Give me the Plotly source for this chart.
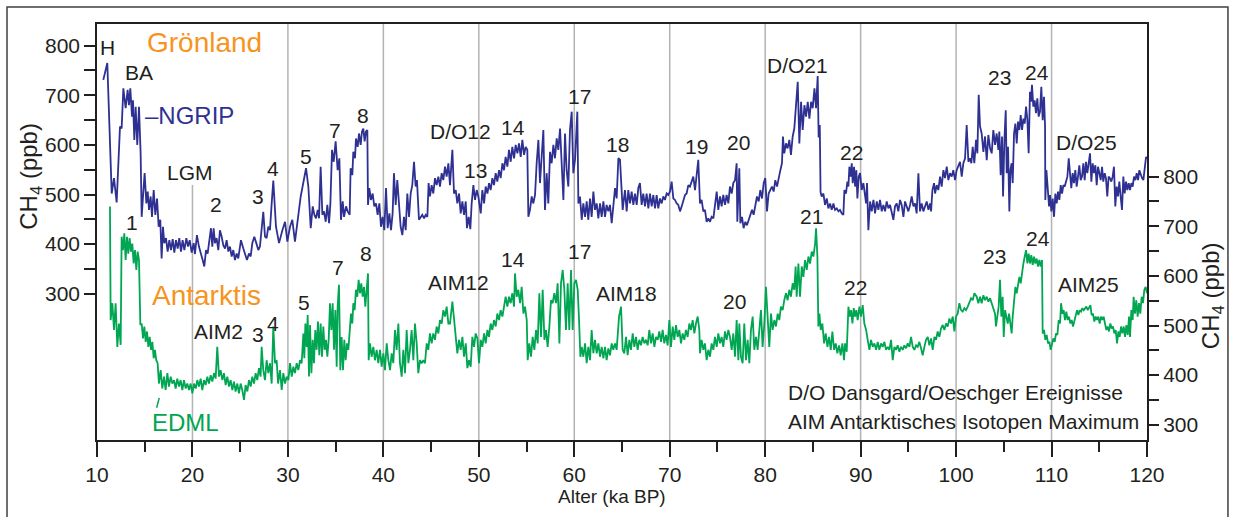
import plotly.graph_objects as go

# ---------------------------------------------------------------------------
# Methane records (ka BP, ppb)
# ---------------------------------------------------------------------------
ngrip_age = [
    10.66, 11.08, 11.54, 11.78, 12.06, 12.41, 12.58, 12.76, 13.00, 13.21, 13.35, 13.49, 13.67, 13.77,
    13.91, 14.05, 14.22, 14.40, 14.57, 14.68, 14.89, 14.99, 15.17, 15.31, 15.45, 15.62, 15.76, 15.94,
    16.11, 16.29, 16.46, 16.63, 16.77, 16.91, 17.05, 17.23, 17.40, 17.58, 17.75, 17.93, 18.10, 18.27,
    18.45, 18.62, 18.80, 18.97, 19.15, 19.36, 19.53, 19.71, 19.92, 20.13, 20.26, 20.47, 20.68, 20.89,
    21.07, 21.24, 21.42, 21.59, 21.77, 21.94, 22.08, 22.22, 22.36, 22.53, 22.71, 22.88, 23.06, 23.23,
    23.41, 23.58, 23.76, 23.93, 24.11, 24.28, 24.45, 24.63, 24.80, 25.08, 25.33, 25.50, 25.71, 25.92,
    26.10, 26.27, 26.48, 26.69, 26.90, 27.07, 27.25, 27.42, 27.60, 27.77, 27.95, 28.12, 28.30, 28.47,
    28.75, 29.07, 29.42, 29.70, 29.94, 30.22, 30.46, 30.74, 31.34, 31.90, 32.14, 32.39, 32.60, 32.77,
    32.94, 33.12, 33.26, 33.43, 33.61, 33.78, 33.96, 34.13, 34.31, 34.45, 34.62, 34.80, 35.00, 35.21,
    35.39, 35.56, 35.74, 35.88, 36.09, 36.26, 36.47, 36.57, 36.75, 36.85, 37.03, 37.13, 37.31, 37.45,
    37.62, 37.76, 37.90, 38.04, 38.18, 38.32, 38.39, 38.53, 38.70, 38.88, 39.05, 39.23, 39.40, 39.58,
    39.75, 39.93, 40.10, 40.28, 40.45, 40.63, 40.80, 40.97, 41.11, 41.29, 41.46, 41.64, 41.81, 41.99,
    42.16, 42.34, 42.51, 42.69, 42.86, 43.03, 43.21, 43.38, 43.52, 43.73, 43.91, 44.08, 44.26, 44.43,
    44.61, 44.74, 44.88, 45.06, 45.23, 45.41, 45.58, 45.76, 45.93, 46.11, 46.28, 46.46, 46.63, 46.81,
    46.98, 47.23, 47.40, 47.58, 47.75, 47.93, 48.10, 48.28, 48.45, 48.63, 48.76, 48.94, 49.11, 49.25,
    49.43, 49.60, 49.78, 49.95, 50.20, 50.37, 50.55, 50.72, 50.90, 51.07, 51.24, 51.42, 51.59, 51.77,
    51.94, 52.12, 52.29, 52.47, 52.64, 52.81, 52.99, 53.16, 53.34, 53.51, 53.69, 53.86, 54.04, 54.21,
    54.39, 54.56, 54.74, 54.91, 55.08, 55.19, 55.36, 55.54, 55.71, 55.89, 56.06, 56.24, 56.41, 56.59,
    56.76, 56.93, 57.11, 57.28, 57.46, 57.63, 57.81, 57.98, 58.16, 58.33, 58.51, 58.68, 58.86, 59.03,
    59.20, 59.38, 59.55, 59.73, 59.90, 60.08, 60.32, 60.43, 60.60, 60.78, 60.95, 61.13, 61.30, 61.47,
    61.65, 61.82, 62.00, 62.17, 62.35, 62.52, 62.70, 62.87, 63.05, 63.22, 63.39, 63.57, 63.74, 63.92,
    64.09, 64.27, 64.44, 64.62, 64.79, 65.07, 65.31, 65.49, 65.66, 65.84, 66.01, 66.19, 66.36, 66.54,
    66.71, 66.88, 67.06, 67.23, 67.41, 67.58, 67.76, 67.93, 68.11, 68.28, 68.46, 68.63, 68.80, 68.98,
    69.15, 69.33, 69.50, 69.68, 69.85, 70.03, 70.20, 70.38, 70.55, 70.73, 70.90, 71.08, 71.25, 71.42,
    71.60, 71.77, 71.95, 72.12, 72.30, 72.47, 72.65, 72.82, 72.99, 73.17, 73.34, 73.52, 73.69, 73.87,
    74.04, 74.22, 74.39, 74.57, 74.74, 74.92, 75.09, 75.27, 75.44, 75.61, 75.79, 75.96, 76.14, 76.31,
    76.49, 76.66, 76.84, 77.01, 77.08, 77.19, 77.29, 77.40, 77.57, 77.74, 77.92, 78.09, 78.27, 78.44,
    78.62, 78.79, 78.97, 79.14, 79.32, 79.49, 79.67, 79.84, 80.01, 80.19, 80.36, 80.54, 80.71, 80.89,
    81.06, 81.24, 81.41, 81.59, 81.76, 81.86, 82.00, 82.18, 82.35, 82.53, 82.70, 82.88, 83.05, 83.23,
    83.41, 83.58, 83.76, 83.93, 84.11, 84.28, 84.46, 84.63, 84.81, 84.98, 85.16, 85.33, 85.50, 85.60,
    85.72, 85.80, 85.92, 86.10, 86.27, 86.45, 86.62, 86.80, 86.97, 87.15, 87.32, 87.50, 87.67, 87.84,
    88.02, 88.19, 88.30, 88.47, 88.61, 88.72, 88.82, 88.96, 89.07, 89.17, 89.31, 89.42, 89.55, 89.66,
    89.80, 89.94, 90.11, 90.29, 90.46, 90.57, 90.67, 90.81, 90.99, 91.16, 91.34, 91.51, 91.69, 91.86,
    92.03, 92.21, 92.38, 92.56, 92.73, 92.91, 93.08, 93.26, 93.43, 93.60, 93.78, 93.95, 94.13, 94.30,
    94.48, 94.65, 94.83, 95.00, 95.18, 95.35, 95.53, 95.70, 95.87, 96.05, 96.22, 96.40, 96.57, 96.75,
    96.92, 97.10, 97.27, 97.38, 97.52, 97.69, 97.80, 97.97, 98.14, 98.32, 98.49, 98.67, 98.84, 99.02,
    99.19, 99.37, 99.54, 99.71, 99.89, 100.06, 100.24, 100.41, 100.59, 100.76, 100.94, 101.11, 101.29,
    101.46, 101.60, 101.74, 101.91, 102.09, 102.23, 102.37, 102.51, 102.68, 102.86, 103.03, 103.21,
    103.38, 103.56, 103.73, 103.90, 104.08, 104.25, 104.43, 104.53, 104.67, 104.81, 104.92, 105.06,
    105.20, 105.30, 105.44, 105.58, 105.69, 105.82, 105.93, 106.07, 106.21, 106.35, 106.49, 106.63,
    106.77, 106.91, 107.05, 107.19, 107.33, 107.47, 107.60, 107.74, 107.85, 107.95, 108.09, 108.23,
    108.37, 108.51, 108.65, 108.79, 108.93, 109.07, 109.21, 109.32, 109.35, 109.46, 109.60, 109.74,
    109.84, 109.98, 110.12, 110.26, 110.40, 110.54, 110.68, 110.82, 110.96, 111.10, 111.24, 111.38,
    111.52, 111.66, 111.80, 111.93, 112.07, 112.21, 112.35, 112.49, 112.63, 112.77, 112.91, 113.05,
    113.19, 113.33, 113.47, 113.61, 113.75, 113.89, 114.03, 114.17, 114.31, 114.45, 114.59, 114.73,
    114.87, 115.01, 115.15, 115.29, 115.42, 115.57, 115.70, 115.84, 115.98, 116.12, 116.26, 116.40,
    116.54, 116.68, 116.82, 116.96, 117.10, 117.24, 117.38, 117.52, 117.66, 117.80, 117.94, 118.08,
    118.22, 118.36, 118.50, 118.64, 118.78, 118.92, 119.06, 119.20, 119.34, 119.48, 119.62, 119.76,
    119.90, 120.00,
]
ngrip_ch4 = [
    731, 765, 502, 533, 484, 637, 633, 714, 674, 711, 680, 714, 657, 690,
    610, 677, 600, 677, 583, 455, 516, 543, 482, 506, 469, 496, 455, 509,
    459, 492, 435, 449, 371, 435, 402, 412, 385, 408, 388, 410, 383, 408,
    391, 412, 385, 408, 388, 412, 395, 408, 383, 402, 380, 418, 395, 383,
    368, 355, 388, 381, 412, 432, 395, 432, 402, 412, 388, 428, 415, 398,
    391, 408, 385, 395, 375, 388, 368, 381, 371, 408, 391, 381, 368, 381,
    375, 402, 415, 402, 388, 395, 428, 465, 415, 412, 435, 428, 482, 528,
    435, 402, 428, 445, 405, 435, 449, 405, 496, 553, 516, 432, 476, 459,
    452, 469, 452, 556, 459, 466, 445, 479, 442, 482, 590, 566, 607, 549,
    573, 449, 486, 455, 476, 466, 459, 553, 539, 586, 573, 613, 596, 623,
    600, 627, 633, 607, 627, 630, 479, 513, 489, 502, 476, 482, 459, 482,
    435, 455, 428, 513, 432, 462, 428, 462, 543, 479, 529, 482, 435, 418,
    455, 428, 502, 455, 502, 519, 566, 516, 529, 449, 455, 459, 452, 459,
    455, 523, 496, 519, 502, 533, 519, 536, 516, 543, 529, 556, 536, 563,
    519, 590, 502, 509, 482, 502, 462, 486, 459, 486, 432, 455, 430, 482,
    519, 489, 509, 496, 462, 509, 482, 516, 502, 523, 509, 533, 519, 543,
    526, 549, 533, 563, 549, 576, 556, 590, 566, 596, 573, 600, 583, 603,
    576, 610, 580, 596, 590, 455, 469, 496, 482, 499, 563, 610, 523, 576,
    630, 469, 543, 482, 586, 563, 600, 573, 613, 590, 633, 563, 489, 623,
    549, 516, 630, 667, 543, 570, 667, 482, 496, 449, 482, 455, 486, 449,
    492, 455, 506, 469, 482, 452, 482, 455, 486, 455, 479, 466, 479, 442,
    486, 513, 492, 573, 570, 469, 509, 466, 509, 482, 506, 479, 502, 479,
    513, 523, 479, 502, 476, 502, 472, 502, 476, 499, 472, 499, 472, 492,
    482, 496, 489, 502, 499, 506, 526, 492, 489, 482, 479, 466, 476, 489,
    499, 502, 519, 516, 526, 536, 509, 539, 570, 482, 489, 466, 469, 445,
    452, 445, 455, 452, 482, 506, 469, 496, 476, 499, 479, 499, 482, 516,
    502, 523, 529, 563, 445, 516, 553, 442, 455, 432, 445, 438, 449, 459,
    469, 459, 479, 496, 486, 509, 492, 523, 533, 466, 502, 509, 516, 506,
    529, 516, 536, 549, 563, 617, 583, 603, 593, 610, 580, 617, 633, 690,
    727, 603, 687, 630, 680, 657, 687, 653, 687, 674, 714, 674, 739, 615,
    640, 505, 496, 502, 479, 492, 472, 482, 469, 482, 469, 472, 466, 469,
    462, 459, 509, 502, 526, 516, 556, 536, 563, 523, 556, 516, 549, 492,
    536, 543, 509, 523, 499, 482, 523, 428, 486, 466, 489, 462, 486, 469,
    489, 466, 479, 466, 486, 472, 479, 462, 449, 476, 482, 466, 489, 479,
    455, 486, 476, 466, 479, 496, 476, 482, 462, 543, 466, 482, 466, 479,
    486, 469, 482, 466, 509, 523, 502, 519, 509, 536, 516, 549, 533, 556,
    529, 543, 536, 549, 529, 549, 560, 566, 536, 563, 573, 640, 566,
    573, 563, 596, 563, 610, 583, 701, 637, 623, 586, 617, 569,
    620, 593, 583, 630, 600, 623, 590, 627, 539, 617, 496, 610,
    670, 543, 596, 466, 549, 563, 523, 623, 643, 603, 647, 630,
    660, 630, 653, 643, 677, 650, 583, 707, 687, 721, 677, 690,
    664, 694, 657, 667, 717, 650, 697, 637, 489, 549, 502, 476,
    499, 466, 492, 455, 502, 482, 506, 489, 519, 502, 519, 516,
    526, 536, 573, 533, 513, 543, 523, 549, 516, 536, 559, 529,
    536, 563, 529, 566, 543, 563, 583, 526, 563, 543, 559, 519,
    556, 543, 529, 556, 526, 543, 533, 496, 536, 533, 526, 536,
    556, 476, 516, 496, 526, 496, 469, 536, 502, 526, 509, 523,
    509, 523, 516, 536, 529, 543, 529, 549, 539, 533, 529, 556,
    576, 572,
]

edml_age = [
    11.36, 11.43, 11.61, 11.78, 11.95, 12.13, 12.30, 12.48, 12.58, 12.72, 12.86, 13.00, 13.14, 13.28,
    13.42, 13.56, 13.70, 13.84, 13.98, 14.12, 14.26, 14.40, 14.54, 14.68, 14.82, 14.96, 15.10, 15.24,
    15.38, 15.52, 15.66, 15.80, 15.94, 16.07, 16.21, 16.35, 16.49, 16.67, 16.84, 17.02, 17.19, 17.37,
    17.54, 17.72, 17.89, 18.07, 18.24, 18.41, 18.59, 18.76, 18.94, 19.11, 19.29, 19.46, 19.64, 19.81,
    19.99, 20.16, 20.34, 20.51, 20.68, 20.86, 21.03, 21.21, 21.38, 21.56, 21.73, 21.91, 22.08, 22.26,
    22.43, 22.60, 22.78, 22.95, 23.13, 23.30, 23.48, 23.65, 23.83, 24.00, 24.18, 24.35, 24.52, 24.70,
    24.87, 25.05, 25.22, 25.40, 25.57, 25.75, 25.92, 26.10, 26.27, 26.45, 26.62, 26.79, 26.97, 27.14,
    27.25, 27.42, 27.60, 27.77, 27.95, 28.12, 28.30, 28.47, 28.65, 28.82, 28.97, 29.17, 29.35, 29.52,
    29.70, 29.87, 30.05, 30.22, 30.40, 30.57, 30.74, 30.92, 31.09, 31.27, 31.44, 31.62, 31.72, 31.83,
    31.97, 32.07, 32.21, 32.32, 32.46, 32.60, 32.73, 32.87, 33.01, 33.15, 33.29, 33.43, 33.57, 33.71,
    33.85, 33.99, 34.13, 34.27, 34.41, 34.55, 34.69, 34.83, 34.97, 35.11, 35.21, 35.35, 35.49, 35.63,
    35.77, 35.91, 36.05, 36.19, 36.33, 36.47, 36.61, 36.75, 36.85, 36.99, 37.13, 37.27, 37.41, 37.55,
    37.69, 37.83, 37.97, 38.11, 38.25, 38.39, 38.46, 38.60, 38.77, 38.95, 39.12, 39.30, 39.47, 39.65,
    39.82, 40.00, 40.17, 40.35, 40.52, 40.70, 40.87, 41.04, 41.22, 41.39, 41.57, 41.74, 41.92, 42.09,
    42.27, 42.44, 42.62, 42.79, 42.96, 43.14, 43.31, 43.49, 43.66, 43.84, 44.01, 44.19, 44.36, 44.54,
    44.71, 44.88, 45.06, 45.23, 45.41, 45.58, 45.76, 45.93, 46.11, 46.28, 46.46, 46.63, 46.81, 46.98,
    47.23, 47.40, 47.58, 47.75, 47.93, 48.10, 48.28, 48.45, 48.63, 48.80, 48.97, 49.15, 49.32, 49.50,
    49.67, 49.85, 50.02, 50.20, 50.37, 50.55, 50.72, 50.90, 51.07, 51.24, 51.42, 51.59, 51.77, 51.94,
    52.12, 52.29, 52.47, 52.64, 52.81, 52.99, 53.16, 53.34, 53.51, 53.69, 53.79, 53.97, 54.14, 54.32,
    54.49, 54.67, 54.84, 55.02, 55.12, 55.29, 55.47, 55.64, 55.82, 55.99, 56.17, 56.34, 56.52, 56.69,
    56.87, 57.04, 57.21, 57.39, 57.56, 57.74, 57.91, 58.09, 58.26, 58.44, 58.61, 58.79, 58.96, 59.13,
    59.31, 59.48, 59.66, 59.83, 60.01, 60.18, 60.36, 60.50, 60.64, 60.78, 60.95, 61.13, 61.30, 61.47,
    61.65, 61.82, 62.00, 62.17, 62.35, 62.52, 62.70, 62.87, 63.05, 63.22, 63.39, 63.57, 63.74, 63.92,
    64.09, 64.27, 64.44, 64.69, 64.90, 65.07, 65.24, 65.42, 65.59, 65.77, 65.94, 66.12, 66.29, 66.47,
    66.64, 66.81, 66.99, 67.16, 67.34, 67.51, 67.69, 67.86, 68.04, 68.21, 68.39, 68.56, 68.74, 68.91,
    69.09, 69.26, 69.43, 69.61, 69.78, 69.96, 70.13, 70.31, 70.48, 70.66, 70.83, 71.01, 71.18, 71.35,
    71.53, 71.70, 71.88, 72.05, 72.23, 72.40, 72.58, 72.75, 72.93, 73.10, 73.17, 73.34, 73.52, 73.69,
    73.87, 74.04, 74.22, 74.39, 74.57, 74.74, 74.92, 75.09, 75.27, 75.44, 75.61, 75.79, 75.96, 76.14,
    76.31, 76.49, 76.66, 76.84, 77.01, 77.19, 77.29, 77.46, 77.64, 77.81, 77.99, 78.16, 78.34, 78.51,
    78.69, 78.86, 79.04, 79.21, 79.39, 79.56, 79.73, 79.91, 80.08, 80.26, 80.43, 80.61, 80.78, 80.96,
    81.13, 81.31, 81.48, 81.65, 81.83, 82.00, 82.18, 82.35, 82.53, 82.70, 82.88, 83.05, 83.19, 83.30,
    83.48, 83.65, 83.83, 84.00, 84.18, 84.35, 84.53, 84.70, 84.88, 85.05, 85.23, 85.33, 85.47, 85.57,
    85.68, 85.82, 85.99, 86.17, 86.34, 86.52, 86.69, 86.87, 87.04, 87.22, 87.39, 87.56, 87.74, 87.91,
    88.09, 88.26, 88.37, 88.54, 88.72, 88.86, 89.00, 89.14, 89.28, 89.41, 89.55, 89.69, 89.87, 90.04,
    90.22, 90.39, 90.57, 90.74, 90.92, 91.09, 91.27, 91.44, 91.62, 91.79, 91.96, 92.14, 92.31, 92.49,
    92.66, 92.84, 93.01, 93.19, 93.36, 93.54, 93.71, 93.88, 94.06, 94.23, 94.41, 94.58, 94.76, 94.93,
    95.11, 95.28, 95.46, 95.63, 95.81, 95.98, 96.15, 96.33, 96.50, 96.68, 96.85, 97.03, 97.20, 97.38,
    97.55, 97.73, 97.90, 98.07, 98.25, 98.42, 98.60, 98.77, 98.95, 99.12, 99.30, 99.47, 99.65, 99.82,
    99.99, 100.17, 100.34, 100.52, 100.69, 100.87, 101.04, 101.22, 101.39, 101.57, 101.74, 101.92,
    102.16, 102.33, 102.51, 102.68, 102.86, 103.03, 103.21, 103.38, 103.56, 103.73, 103.90, 104.08,
    104.18, 104.32, 104.46, 104.60, 104.74, 104.88, 104.99, 105.13, 105.27, 105.41, 105.55, 105.69,
    105.82, 105.93, 106.07, 106.21, 106.35, 106.49, 106.63, 106.77, 106.91, 107.05, 107.19, 107.33,
    107.47, 107.60, 107.74, 107.88, 108.02, 108.16, 108.30, 108.44, 108.58, 108.72, 108.86, 109.00,
    109.07, 109.21, 109.35, 109.49, 109.63, 109.77, 109.91, 110.05, 110.19, 110.33, 110.47, 110.61,
    110.75, 110.89, 111.00, 111.13, 111.27, 111.41, 111.55, 111.69, 111.83, 111.97, 112.11, 112.25,
    112.39, 112.53, 112.67, 112.81, 112.95, 113.09, 113.23, 113.37, 113.51, 113.65, 113.79, 113.93,
    114.07, 114.20, 114.34, 114.48, 114.62, 114.76, 114.90, 115.04, 115.18, 115.32, 115.46, 115.60,
    115.74, 115.88, 116.02, 116.16, 116.30, 116.44, 116.58, 116.72, 116.86, 117.00, 117.14, 117.28,
    117.42, 117.56, 117.70, 117.84, 117.98, 118.12, 118.22, 118.36, 118.50, 118.60, 118.74, 118.88,
    119.02, 119.16, 119.30, 119.44, 119.58, 119.72, 119.86, 120.00,
]
edml_ch4 = [
    740, 511, 545, 491, 545, 457, 504, 461, 679, 652, 686, 632, 679, 645,
    676, 649, 665, 625, 652, 612, 649, 632, 501, 504, 474, 498, 467, 488,
    457, 477, 451, 467, 434, 451, 430, 424, 383, 410, 373, 397, 370, 404,
    377, 397, 383, 390, 373, 393, 377, 390, 370, 390, 373, 383, 370, 383,
    363, 383, 373, 390, 377, 393, 370, 390, 380, 397, 383, 400, 387, 404,
    393, 457, 397, 410, 390, 404, 380, 397, 377, 390, 370, 387, 367, 383,
    363, 383, 370, 350, 380, 367, 390, 377, 397, 383, 404, 390, 414, 397,
    457, 410, 390, 430, 404, 424, 383, 498, 424, 430, 383, 410, 370, 404,
    383, 397, 390, 424, 397, 417, 404, 424, 410, 430, 424, 484, 434, 504,
    457, 521, 397, 501, 404, 471, 424, 491, 451, 508, 440, 504, 437, 498,
    451, 471, 437, 471, 545, 491, 545, 451, 531, 417, 538, 582, 410, 477,
    410, 471, 430, 464, 451, 491, 524, 504, 545, 531, 572, 558, 592, 565,
    585, 558, 578, 538, 572, 605, 430, 464, 437, 457, 430, 451, 424, 451,
    417, 444, 410, 464, 430, 410, 444, 424, 491, 451, 504, 424, 397, 451,
    404, 491, 424, 451, 491, 430, 504, 464, 404, 430, 424, 430, 424, 464,
    451, 484, 464, 484, 471, 498, 484, 511, 504, 531, 518, 538, 504, 504,
    548, 511, 471, 444, 471, 451, 477, 437, 464, 414, 430, 417, 477, 457,
    484, 474, 424, 471, 457, 484, 464, 491, 477, 504, 491, 511, 498, 524,
    511, 531, 518, 538, 558, 538, 558, 545, 565, 538, 605, 558, 572, 545,
    578, 524, 538, 511, 430, 464, 437, 477, 451, 491, 464, 565, 477, 572,
    471, 491, 457, 498, 551, 545, 565, 545, 585, 464, 585, 612, 572, 491,
    585, 491, 612, 491, 585, 592, 572, 511, 437, 457, 437, 464, 424, 457,
    430, 491, 444, 471, 444, 464, 437, 457, 434, 457, 430, 454, 440, 464,
    451, 464, 451, 518, 538, 451, 444, 477, 440, 471, 451, 484, 457, 477,
    451, 471, 460, 477, 464, 471, 460, 491, 464, 484, 457, 477, 471, 488,
    467, 491, 464, 481, 460, 511, 457, 498, 471, 501, 477, 491, 464, 484,
    471, 491, 477, 504, 491, 511, 484, 504, 518, 491, 444, 471, 451, 464,
    430, 451, 437, 464, 451, 477, 457, 484, 464, 477, 457, 488, 471, 491,
    477, 451, 484, 437, 511, 430, 504, 437, 424, 504, 430, 471, 424, 491,
    518, 451, 477, 451, 491, 531, 457, 504, 578, 518, 457, 524, 491, 511,
    498, 524, 511, 538, 531, 551, 565, 551, 572, 558, 585, 572, 619, 558,
    625, 558, 619, 598, 632, 612, 639, 625, 649, 639, 665, 696, 639, 498,
    524, 491, 504, 464, 484, 457, 477, 451, 488, 451, 464, 444, 460, 440,
    464, 430, 464, 447, 538, 518, 531, 504, 535, 518, 531, 511, 538, 518,
    541, 504, 491, 471, 451, 471, 457, 464, 451, 467, 451, 464, 457, 467,
    451, 457, 451, 471, 430, 457, 451, 460, 447, 457, 451, 460, 454, 464,
    457, 477, 457, 451, 460, 457, 467, 454, 440, 457, 471, 477, 460, 474,
    451, 477, 471, 488, 477, 494, 501, 491, 504, 498, 514, 504, 518, 488,
    518, 524, 545, 531, 528, 535, 531, 538, 545, 555, 551, 565,
    558, 545, 558, 545, 561, 551, 558, 548, 555, 545, 538, 524,
    498, 518, 538, 592, 518, 558, 477, 531, 518, 504, 524, 498,
    484, 518, 558, 578, 565, 585, 598, 585, 612, 625, 639, 652,
    625, 645, 625, 642, 622, 639, 625, 635, 619, 632, 619, 632,
    484, 491, 471, 481, 464, 467, 451, 464, 474, 467, 484, 481,
    511, 504, 545, 524, 531, 511, 528, 511, 518, 504, 511, 498,
    511, 524, 531, 521, 531, 528, 535, 531, 535, 538, 531, 535,
    541, 521, 524, 508, 518, 511, 518, 504, 518, 511, 518, 504,
    491, 498, 488, 504, 494, 498, 484, 491, 464, 488, 477, 498,
    484, 498, 477, 501, 481, 518, 477, 531, 511, 558, 524, 551,
    518, 545, 524, 558, 545, 572, 578, 565,
]

# Event labels: (age, left-axis ppb, text)
greenland_events = [
    (11.15, 797, "H"), (14.40, 745, "BA"), (19.74, 545, "LGM"), (22.47, 479, "2"),
    (26.87, 495, "3"), (28.44, 553, "4"), (31.90, 576, "5"), (34.93, 630, "7"),
    (37.87, 660, "8"), (48.03, 626, "D/O12"), (49.60, 549, "13"), (53.58, 636, "14"),
    (60.50, 697, "17"), (64.58, 600, "18"), (72.76, 596, "19"), (77.16, 604, "20"),
    (83.34, 761, "D/O21"), (88.99, 584, "22"), (104.5, 735, "23"), (108.48, 745, "24"),
    (113.61, 604, "D/O25"),
]
antarctic_events = [
    (13.67, 444, "1"), (22.68, 223, "AIM2"), (26.87, 217, "3"), (28.44, 239, "4"),
    (31.69, 283, "5"), (35.25, 352, "7"), (38.18, 382, "8"), (47.82, 322, "AIM12"),
    (53.58, 368, "14"), (60.50, 386, "17"), (65.42, 301, "AIM18"), (76.74, 285, "20"),
    (84.80, 455, "21"), (89.41, 312, "22"), (103.98, 376, "23"), (108.59, 412, "24"),
    (113.82, 319, "AIM25"),
]

FONT = "Liberation Sans, Arial, Helvetica, sans-serif"
BLACK = "#231f20"
BLUE = "#2e3192"
GREEN = "#00a651"
ORANGE = "#f7941d"
GRID = "#b3b3b3"

fig = go.Figure()
fig.add_trace(go.Scatter(x=ngrip_age, y=ngrip_ch4, mode="lines",
                         line=dict(color=BLUE, width=1.8), yaxis="y", name="NGRIP"))
fig.add_trace(go.Scatter(x=edml_age, y=edml_ch4, mode="lines",
                         line=dict(color=GREEN, width=1.8), yaxis="y2", name="EDML"))

ann = []


def text(x, y, s, color=BLACK, size=21, xref="x", yref="y", angle=0, xanchor="center"):
    ann.append(dict(x=x, y=y, xref=xref, yref=yref, text=s, showarrow=False,
                    textangle=angle, xanchor=xanchor, yanchor="middle",
                    font=dict(family=FONT, size=size, color=color)))


for a, v, s in greenland_events + antarctic_events:
    text(a, v, s)

text(21.31, 807, "Grönland", color=ORANGE, size=28)
text(21.42, 297, "Antarktis", color=ORANGE, size=28)
text(19.74, 660, "–NGRIP", color=BLUE, size=24)
text(19.32, 41, "EDML", color=GREEN, size=24)
text(82.15, 100, "D/O Dansgard/Oeschger Ereignisse", xanchor="left")
text(82.15, 43, "AIM Antarktisches Isotopen Maximum", xanchor="left")

# Axis titles
text(-0.0629, 0.635, "CH<sub>4</sub> (ppb)", xref="paper", yref="paper", angle=-90, size=24)
text(1.062, 0.346, "CH<sub>4</sub> (ppb)", xref="paper", yref="paper", angle=-90, size=24)
text(0.4905, -0.137, "Alter (ka BP)", xref="paper", yref="paper", size=19)

shapes = []
# vertical grid lines; the 20 ka (LGM) line starts below its label
for g in range(30, 120, 10):
    shapes.append(dict(type="line", xref="x", yref="paper", x0=g, x1=g, y0=0, y1=1,
                       line=dict(color=GRID, width=1.5), layer="below"))
shapes.append(dict(type="line", xref="x", yref="paper", x0=20, x1=20, y0=0, y1=0.613,
                   line=dict(color=GRID, width=1.5), layer="below"))
# leader line for the EDML label
shapes.append(dict(type="line", xref="x", yref="y", x0=16.52, x1=16.25, y0=90, y1=70,
                   line=dict(color=GREEN, width=1.5)))
# outer figure frame
shapes.append(dict(type="rect", xref="paper", yref="paper", x0=-0.0857, x1=1.0771,
                   y0=-0.2, y1=1.041, line=dict(color="#404040", width=1.5),
                   fillcolor="rgba(0,0,0,0)"))

major_ppb = list(range(300, 801, 100))
minor_ppb = list(range(350, 751, 100))
y_minor = dict(tickmode="array", tickvals=minor_ppb, ticks="outside", ticklen=11,
               tickwidth=1.5, tickcolor=BLACK, showgrid=False)

fig.update_layout(
    width=1235, height=517,
    margin=dict(l=97, r=88, t=24, b=77),
    paper_bgcolor="white", plot_bgcolor="white",
    showlegend=False,
    font=dict(family=FONT, color=BLACK),
    annotations=ann, shapes=shapes,
    xaxis=dict(range=[10, 120], tickvals=list(range(10, 121, 10)), ticks="outside",
               ticklen=15, tickwidth=1.5, tickcolor=BLACK, showgrid=False, zeroline=False,
               showline=True, mirror=True, linecolor=BLACK, linewidth=1.5,
               tickfont=dict(size=21, color=BLACK),
               minor=dict(dtick=5, ticks="outside", ticklen=10, tickwidth=1.5,
                          tickcolor=BLACK, showgrid=False)),
    yaxis=dict(range=[5.1, 843.7], tickvals=major_ppb, ticks="outside",
               ticklen=11, tickwidth=1.5, tickcolor=BLACK, showgrid=False, zeroline=False,
               showline=True, mirror=True, linecolor=BLACK, linewidth=1.5,
               tickfont=dict(size=21, color=BLACK), minor=y_minor),
    yaxis2=dict(range=[269.2, 1107.8], tickvals=major_ppb,
                ticks="outside", ticklen=11, tickwidth=1.5, tickcolor=BLACK,
                overlaying="y", side="right", showgrid=False, zeroline=False,
                showline=False, tickfont=dict(size=21, color=BLACK), minor=y_minor),
)

fig.write_html("out.html")
